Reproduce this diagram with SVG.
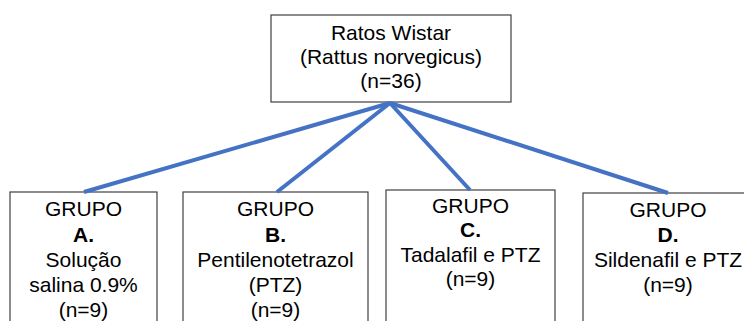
<svg xmlns="http://www.w3.org/2000/svg" width="744" height="321" viewBox="0 0 744 321">
<style>
.box{fill:#fff;stroke:#404040;stroke-width:1.2}
.t{font-family:"Liberation Sans",Arial,sans-serif;font-size:21px;fill:#000;text-anchor:middle}
.b{font-weight:bold}
.c{stroke:#4472C4;stroke-width:4;fill:none;stroke-linecap:butt}
</style>
<rect width="744" height="321" fill="#fff"/>
<g id="root">
<rect class="box" x="271" y="15" width="240" height="87"/>
<text class="t" x="391" y="39.5">Ratos Wistar</text>
<text class="t" x="391" y="63.5">(Rattus norvegicus)</text>
<text class="t" x="391" y="87.5">(n=36)</text>
</g>
<g id="grupoA">
<rect class="box" x="10" y="192" width="147" height="140"/>
<text class="t" x="83.5" y="216">GRUPO</text>
<text class="t b" x="83.5" y="241.5">A.</text>
<text class="t" x="83.5" y="267">Solução</text>
<text class="t" x="83.5" y="292">salina 0.9%</text>
<text class="t" x="83.5" y="317">(n=9)</text>
</g>
<g id="grupoB">
<rect class="box" x="183" y="192" width="185" height="140"/>
<text class="t" x="275.5" y="216">GRUPO</text>
<text class="t b" x="275.5" y="241.5">B.</text>
<text class="t" x="275.5" y="267">Pentilenotetrazol</text>
<text class="t" x="275.5" y="292">(PTZ)</text>
<text class="t" x="275.5" y="317">(n=9)</text>
</g>
<g id="grupoC">
<rect class="box" x="386" y="190" width="169" height="140"/>
<text class="t" x="470.5" y="213">GRUPO</text>
<text class="t b" x="470.5" y="237">C.</text>
<text class="t" x="470.5" y="262">Tadalafil e PTZ</text>
<text class="t" x="470.5" y="286">(n=9)</text>
</g>
<g id="grupoD">
<rect class="box" x="583" y="193" width="170" height="140"/>
<text class="t" x="668" y="217">GRUPO</text>
<text class="t b" x="668" y="242">D.</text>
<text class="t" x="668" y="267">Sildenafil e PTZ</text>
<text class="t" x="668" y="292">(n=9)</text>
</g>
<g id="connectors">
<line class="c" x1="390" y1="103" x2="84" y2="192"/>
<line class="c" x1="390" y1="103" x2="277" y2="192"/>
<line class="c" x1="390" y1="103" x2="470" y2="190"/>
<line class="c" x1="390" y1="103" x2="668" y2="193"/>
</g>
</svg>
